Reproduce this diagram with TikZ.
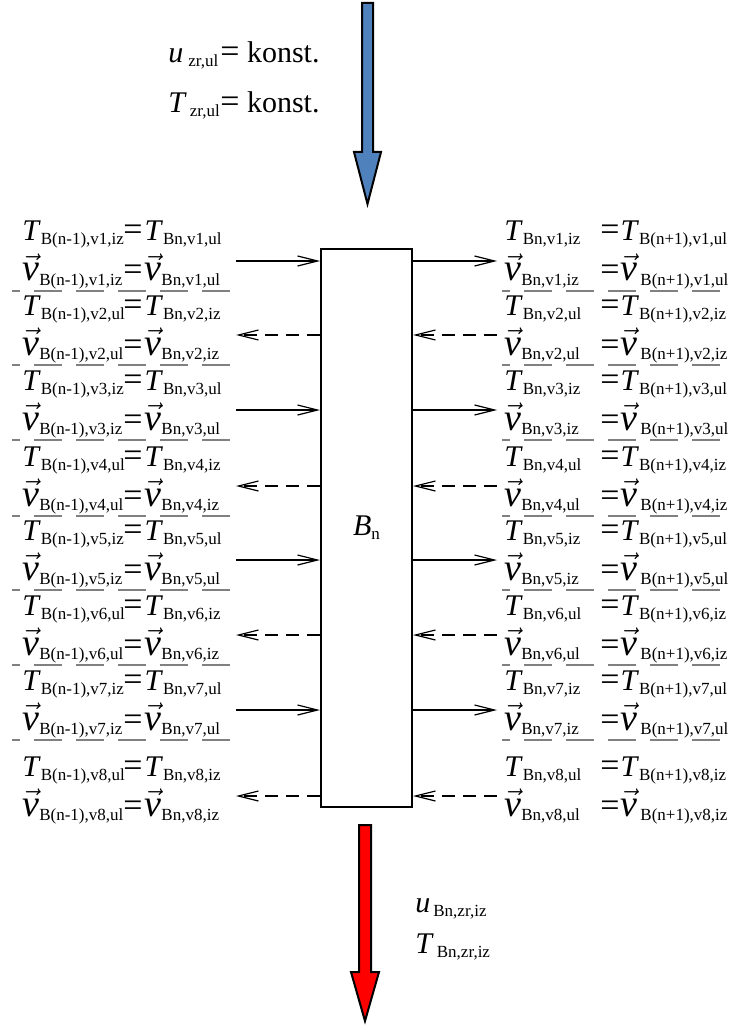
\documentclass[tikz,border=0pt]{standalone}
\usepackage{fontspec}
\setmainfont{Liberation Serif}
\usetikzlibrary{arrows.meta}
\definecolor{zrblue}{HTML}{4F81BD}
\definecolor{zrred}{HTML}{FF0000}
\newcommand\sbs[1]{\raisebox{-2pt}{\fontsize{8.5}{10}\selectfont #1}}
\newcommand\vv{{\fontsize{19}{20}\selectfont\ensuremath{\vec{\textit{v}}}}}
\newcommand\eqs{{\fontsize{17}{18}\selectfont =}}
\tikzset{block node/.style={rectangle,draw,line width=1pt,minimum width=45.5pt,minimum height=279pt,inner sep=0pt}}
\tikzset{label node/.style={anchor=base west,inner sep=0pt,font=\fontsize{15}{18}\selectfont}}
\tikzset{flow line/.style={line width=0.6pt,-{Straight Barb[length=10pt,width=5pt]}}}
\tikzset{back line/.style={flow line,dash pattern=on 6.5pt off 4pt}}
\tikzset{sep line/.style={gray,line width=0.75pt,dash pattern=on 14pt off 7pt,dash phase=10pt}}
\tikzset{big arrow/.style={draw=black,line width=1pt,line join=miter}}

\begin{document}
\begin{tikzpicture}[x=0.5pt,y=-0.5pt]
    \useasboundingbox (0,0) rectangle (737,1026);
    \node[block node] (Bn) at (366.5,528) {\fontsize{15}{18}\selectfont\textit{B}\sbs{n}};

    % inflow and outflow
    \filldraw[big arrow,fill=zrblue] (362,3) -- (373,3) -- (373,152) -- (381,152) -- (367.5,204) -- (354,152) -- (362,152) -- cycle;
    \filldraw[big arrow,fill=zrred] (359,825) -- (371,825) -- (371,972) -- (379,972) -- (365,1021) -- (351,972) -- (359,972) -- cycle;
    \node[label node] (uIn) at (168,63) {\makebox[26pt][l]{\textit{u}\hspace{2.5pt}\sbs{zr,ul}}\eqs{} konst.};
    \node[label node] (tIn) at (168,113) {\makebox[26pt][l]{\textit{T}\hspace{1.5pt}\sbs{zr,ul}}\eqs{} konst.};
    \node[label node] (uOut) at (415,912) {\textit{u}\hspace{1.5pt}\sbs{Bn,zr,iz}};
    \node[label node] (tOut) at (415,953) {\textit{T}\hspace{1.5pt}\sbs{Bn,zr,iz}};

    % boundary values
    \foreach \k/\yy/\a/\b in {1/261/iz/ul,2/335/ul/iz,3/410/iz/ul,4/486/ul/iz,5/560/iz/ul,6/635/ul/iz,7/710/iz/ul,8/796/ul/iz}{
        \node[label node] (lT\k) at (22,\yy-20) {\makebox[50.5pt][l]{\textit{T}\sbs{B(n-1),v\k,\a}}\eqs\hspace{1pt}\textit{T}\sbs{Bn,v\k,\b}};
        \node[label node] (lV\k) at (22,\yy+20) {\makebox[50.5pt][l]{\vv\sbs{B(n-1),v\k,\a}}\eqs\hspace{1pt}\vv\sbs{Bn,v\k,\b}};
        \node[label node] (rT\k) at (504,\yy-20) {\makebox[48pt][l]{\textit{T}\sbs{Bn,v\k,\a}}\eqs\hspace{0.5pt}\textit{T}\sbs{B(n+1),v\k,\b}};
        \node[label node] (rV\k) at (504,\yy+20) {\makebox[48pt][l]{\vv\sbs{Bn,v\k,\a}}\eqs\hspace{0.5pt}\vv\hspace{1.5pt}\sbs{B(n+1),v\k,\b}};
        \coordinate (lA\k) at (236,\yy);
        \coordinate (rA\k) at (497,\yy);
    }
    \foreach \k/\yy in {1/261,2/335,3/410,4/486,5/560,6/635,7/710}{
        \draw[sep line] (12,\yy+30) -- (230,\yy+30);
        \draw[sep line] (502,\yy+30) -- (720,\yy+30);
    }

    \foreach \k in {1,3,5,7}{
        \draw[flow line] (lA\k) -- (lA\k -| Bn.west);
        \draw[flow line] (rA\k -| Bn.east) -- (rA\k);
    }
    \foreach \k in {2,4,6,8}{
        \draw[back line] (lA\k -| Bn.west) -- (lA\k);
        \draw[back line] (rA\k) -- (rA\k -| Bn.east);
    }
\end{tikzpicture}
\end{document}
